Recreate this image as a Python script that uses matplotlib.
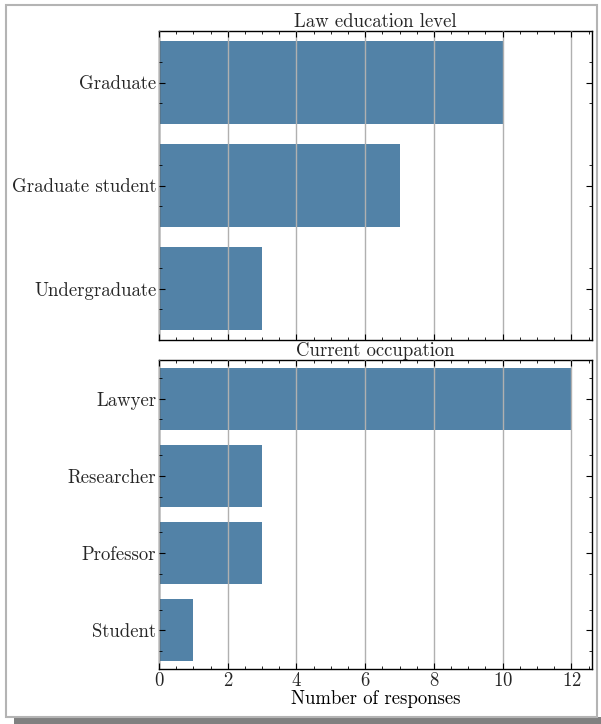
import matplotlib
matplotlib.use("Agg")
import matplotlib.pyplot as plt
from matplotlib.patches import Rectangle
from matplotlib.ticker import MultipleLocator, FixedLocator

plt.rcParams['font.family'] = 'cmr10'
plt.rcParams['mathtext.fontset'] = 'cm'
plt.rcParams['axes.formatter.use_mathtext'] = True
plt.rcParams['font.size'] = 13.5
plt.rcParams['text.color'] = '#262626'
plt.rcParams['xtick.labelcolor'] = '#262626'
plt.rcParams['ytick.labelcolor'] = '#262626'

education_levels = ['Graduate', 'Graduate student', 'Undergraduate']
education_counts = [10, 7, 3]

occupations = ['Lawyer', 'Researcher', 'Professor', 'Student']
occupation_counts = [12, 3, 3, 1]

bar_color = '#5282a7'

fig = plt.figure(figsize=(6.01, 7.24), dpi=100)

# framed page with a drop shadow, kept behind the axes
fig.patches.append(Rectangle((14 / 601, 0), 1, 7 / 724, transform=fig.transFigure,
                             facecolor='#808080', edgecolor='none', zorder=-10))
fig.patches.append(Rectangle((5.5 / 601, 7 / 724), 591 / 601, 712 / 724,
                             transform=fig.transFigure, facecolor='white',
                             edgecolor='#b4b4b4', linewidth=1.5, zorder=-9))

ax1 = fig.add_axes([159 / 601, 1 - 340 / 724, 433 / 601, 309 / 724])
ax2 = fig.add_axes([159 / 601, 1 - 669 / 724, 433 / 601, 309 / 724], sharex=ax1)


def draw_panel(ax, labels, counts, title, minor_off):
    pos = list(range(len(labels)))
    ax.barh(pos, counts, height=0.8, color=bar_color, edgecolor='none', zorder=1)
    ax.set_yticks(pos)
    ax.set_yticklabels(labels)
    ax.set_ylim(len(labels) - 0.5, -0.5)
    ax.set_title(title, fontsize=13.5, pad=1)
    ax.grid(axis='x', color='#b0b0b0', linewidth=1.0, zorder=2)
    ax.set_axisbelow(False)
    ax.yaxis.set_minor_locator(FixedLocator([p + d for p in pos for d in (-minor_off, minor_off)]))
    ax.tick_params(which='both', direction='in', top=True, right=True, pad=2)
    ax.tick_params(which='major', length=4, width=0.8)
    ax.tick_params(which='minor', length=2, width=0.6)
    for s in ax.spines.values():
        s.set_linewidth(1.0)


draw_panel(ax1, education_levels, education_counts, 'Law education level', 0.2)
draw_panel(ax2, occupations, occupation_counts, 'Current occupation', 0.27)

ax1.set_xlim(0, 12.6)
ax1.xaxis.set_major_locator(MultipleLocator(2))
ax1.xaxis.set_minor_locator(MultipleLocator(0.5))
ax1.tick_params(labelbottom=False)
ax2.set_xlabel('Number of responses', labelpad=0)

fig.savefig('out.png', dpi=100)
